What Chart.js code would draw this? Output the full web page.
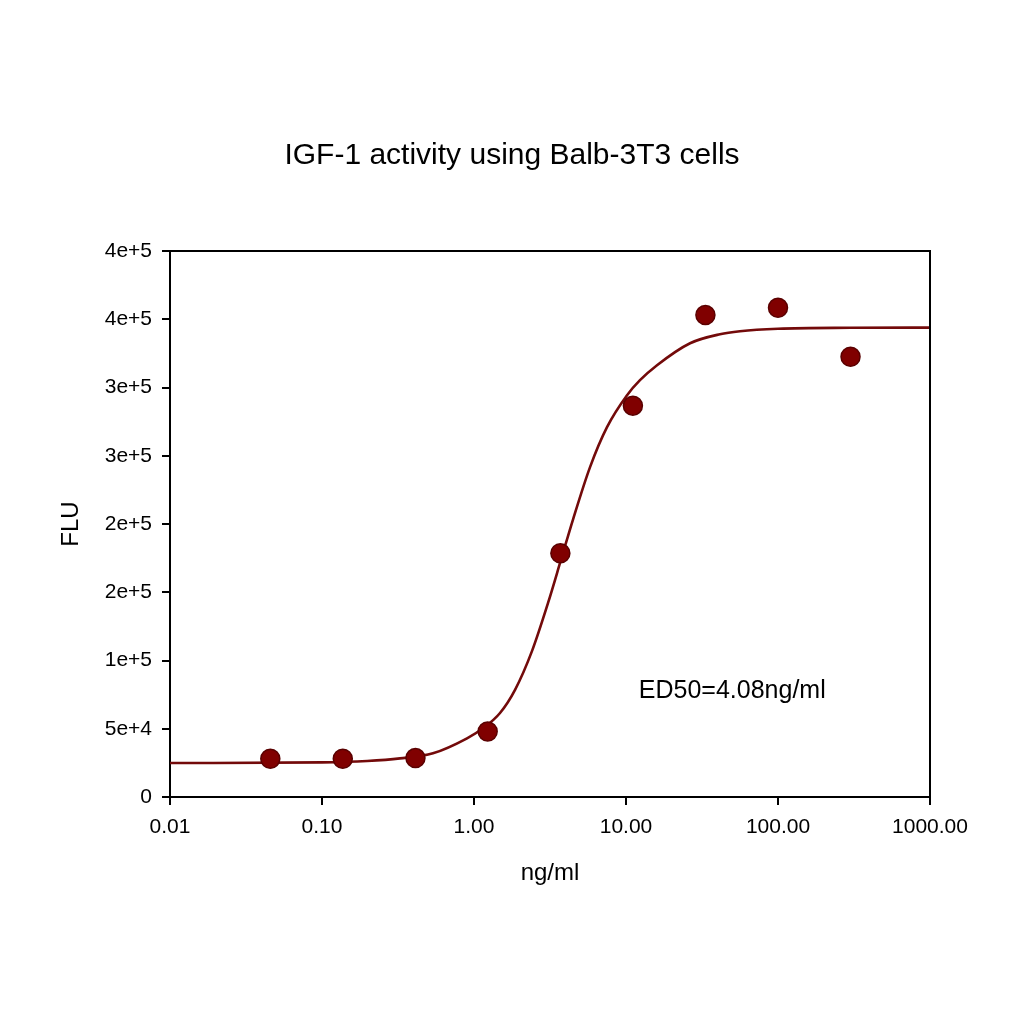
<!DOCTYPE html>
<html>
<head>
<meta charset="utf-8">
<script src="https://cdn.jsdelivr.net/npm/chart.js@4.4.1/dist/chart.umd.min.js"></script>
<style>
  html, body { margin: 0; padding: 0; background: #fff; }
  #wrap { width: 1024px; height: 1024px; }
</style>
</head>
<body>
<div id="wrap"><canvas id="myChart" width="1024" height="1024"></canvas></div>
<script>
// measured points (ng/ml vs FLU)
var doses = [0.0457, 0.137, 0.412, 1.23, 3.70, 11.1, 33.3, 100, 300];
var flu = [28000, 28000, 28500, 48000, 178600, 286700, 353100, 358400, 322500];

// fitted curve
var curveDoses = [0.01, 0.1, 0.198, 0.326, 0.537, 0.90, 1.146, 1.483, 1.862, 2.41, 3.07, 3.74, 4.48, 5.80, 7.50, 10.16, 12.36, 16.0, 26.4, 41.5, 56.2, 100, 300, 1000];
var curveFlu = [24880, 25390, 26410, 28320, 32050, 43020, 50340, 61540, 78510, 107050, 142170, 174000, 203270, 241680, 270950, 294360, 305340, 316310, 332410, 339000, 341190, 343020, 343750, 343900];

var xTicks = [0.01, 0.1, 1, 10, 100, 1000];
var yTickLabels = ['0', '5e+4', '1e+5', '2e+5', '2e+5', '3e+5', '3e+5', '4e+5', '4e+5'];

var ed50Text = 'ED50=4.08ng/ml';
var ed50At = { x: 50, y: 77800 };

Chart.defaults.font.family = '"Liberation Sans", Arial, sans-serif';
Chart.defaults.color = '#000';

var frame = {
    id: 'frame',
    afterDatasetsDraw: function(chart) {
        var c = chart.ctx;
        c.save();
        c.font = '25px "Liberation Sans", Arial, sans-serif';
        c.fillStyle = '#000';
        c.textAlign = 'center';
        c.textBaseline = 'middle';
        c.fillText(ed50Text, chart.scales.x.getPixelForValue(ed50At.x), chart.scales.y.getPixelForValue(ed50At.y));
        c.restore();
    },
    afterDraw: function(chart) {
        var a = chart.chartArea;
        var c = chart.ctx;
        c.save();
        c.strokeStyle = '#000';
        c.lineWidth = 2;
        c.beginPath();
        c.moveTo(a.left, a.top);
        c.lineTo(a.right, a.top);
        c.lineTo(a.right, a.bottom);
        c.stroke();
        c.restore();
    }
};

var ctx = document.getElementById('myChart');
var myChart = new Chart(ctx, {
    type: 'scatter',
    data: {
        datasets: [{
            label: 'data',
            data: doses.map(function(d, i) { return {x: d, y: flu[i]}; }),
            showLine: false,
            pointRadius: 9.5,
            backgroundColor: '#800000',
            borderColor: '#5a0000',
            borderWidth: 1.5
        }, {
            label: 'fit',
            data: curveDoses.map(function(d, i) { return {x: d, y: curveFlu[i]}; }),
            showLine: true,
            pointRadius: 0,
            borderColor: '#730a0a',
            borderWidth: 2.6,
            cubicInterpolationMode: 'monotone',
            fill: false
        }]
    },
    options: {
        responsive: false,
        devicePixelRatio: 1,
        animation: false,
        layout: { padding: 0 },
        plugins: {
            legend: { display: false },
            tooltip: { enabled: false },
            title: {
                display: true,
                text: 'IGF-1 activity using Balb-3T3 cells',
                color: '#000',
                font: { size: 30, weight: 'normal', lineHeight: 1.2 },
                padding: { top: 138, bottom: 77 }
            }
        },
        scales: {
            x: {
                type: 'logarithmic',
                min: 0.01,
                max: 1000,
                afterBuildTicks: function(scale) {
                    scale.ticks = xTicks.map(function(v) { return {value: v}; });
                },
                afterFit: function(scale) { scale.height = 227; },
                ticks: {
                    autoSkip: false,
                    maxRotation: 0,
                    padding: 10,
                    font: { size: 21 },
                    callback: function(v) { return Number(v).toFixed(2); }
                },
                grid: { display: true, drawOnChartArea: false, drawTicks: true, tickLength: 8, color: '#000', lineWidth: 2 },
                border: { display: true, color: '#000', width: 2 },
                title: { display: true, text: 'ng/ml', font: { size: 24 }, padding: { top: 0, bottom: 136 } }
            },
            y: {
                min: 0,
                max: 400000,
                afterFit: function(scale) { scale.width = 170; },
                ticks: {
                    stepSize: 50000,
                    padding: 10,
                    font: { size: 21 },
                    callback: function(v, i) { return yTickLabels[i]; }
                },
                grid: { display: true, drawOnChartArea: false, drawTicks: true, tickLength: 8, color: '#000', lineWidth: 2 },
                border: { display: true, color: '#000', width: 2 },
                title: { display: true, text: 'FLU', font: { size: 24 }, padding: { top: 57, bottom: 0 } }
            },
            yr: {
                position: 'right',
                min: 0,
                max: 1,
                afterFit: function(scale) { scale.width = 94; },
                ticks: { display: false },
                grid: { display: false },
                border: { display: false }
            }
        }
    },
    plugins: [frame]
});
</script>
</body>
</html>
